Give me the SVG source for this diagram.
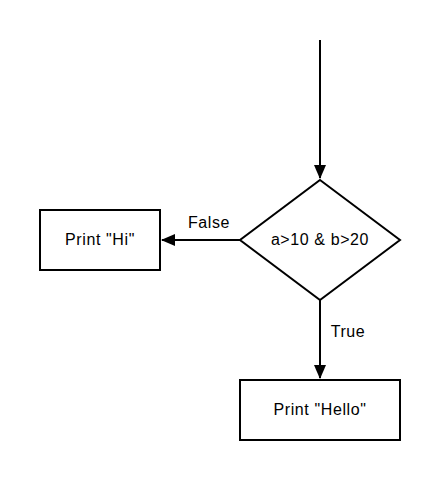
<svg xmlns="http://www.w3.org/2000/svg" width="440" height="480" viewBox="0 0 440 480">
<style>
.shape{fill:#fff;stroke:#000;stroke-width:2}
.edge{fill:none;stroke:#000;stroke-width:2}
text{font-family:"Liberation Sans",Arial,sans-serif;font-size:16px;letter-spacing:0.6px;fill:#000;text-anchor:middle}
</style>
<defs>
<marker id="arrow" viewBox="0 0 14 12" refX="13" refY="6" markerWidth="14" markerHeight="12" markerUnits="userSpaceOnUse" orient="auto">
<path d="M0,0 L14,6 L0,12 Z" fill="#000"/>
</marker>
</defs>
<rect width="440" height="480" fill="#fff"/>
<g id="connectors">
<path class="edge" d="M320,40 L320,178" marker-end="url(#arrow)"/>
<path class="edge" d="M240,240 L162,240" marker-end="url(#arrow)"/>
<path class="edge" d="M320,300 L320,378" marker-end="url(#arrow)"/>
<text x="209" y="228">False</text>
<text x="348" y="337">True</text>
</g>
<g id="decision">
<path class="shape" d="M320,180 L400,240 L320,300 L240,240 Z"/>
<text x="320" y="245">a&gt;10 &amp; b&gt;20</text>
</g>
<g id="print-hi">
<rect class="shape" x="40" y="210" width="120" height="60"/>
<text x="100" y="245">Print "Hi"</text>
</g>
<g id="print-hello">
<rect class="shape" x="240" y="380" width="160" height="60"/>
<text x="320" y="415">Print "Hello"</text>
</g>
</svg>
